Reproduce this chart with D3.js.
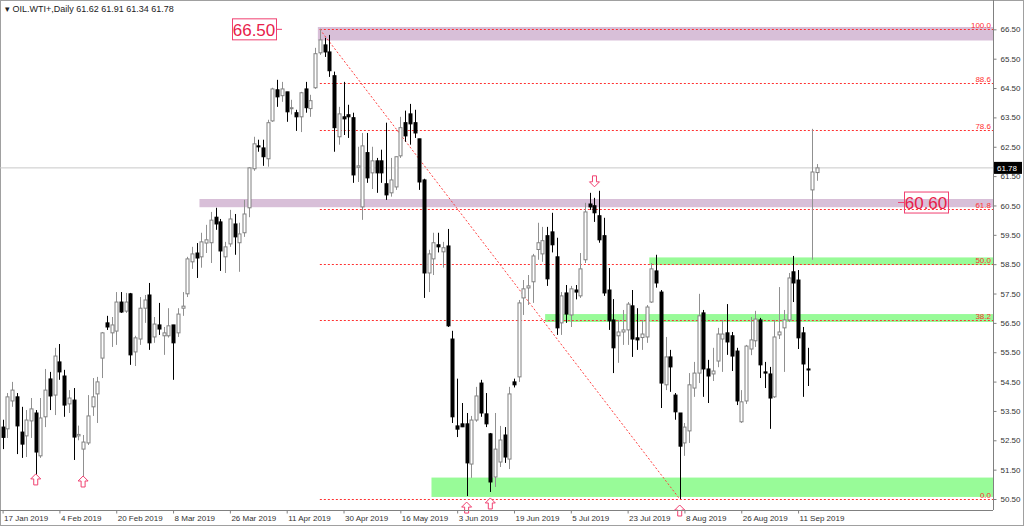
<!DOCTYPE html>
<html><head><meta charset="utf-8">
<script src="https://cdn.jsdelivr.net/npm/d3@7"></script>
<style>body{margin:0;background:#fff}svg{display:block}text{font-family:"Liberation Sans",Arial,sans-serif}</style>
</head><body><svg id="c" width="1024" height="526"></svg>
<script>
const open=[52.95,52.89,53.84,53.98,52.78,52.65,53.16,53.43,51.97,53.3,54.59,54.04,55.17,54.69,53.74,53.87,52.65,52.2,52.41,53.64,54.08,55.3,56.5,56.16,56.22,57.21,56.9,57.49,55.51,55.95,57.0,57.45,56.02,56.43,56.06,56.06,56.43,56.16,57.0,57.49,58.58,58.88,58.75,59.22,59.23,60.1,59.94,58.75,59.19,59.87,59.23,59.57,60.42,61.75,62.53,62.46,62.09,63.38,64.44,64.24,64.37,63.8,63.66,63.52,64.47,63.8,64.51,65.7,65.97,65.73,64.92,62.84,63.52,63.59,63.49,61.8,60.45,62.3,61.61,62.02,62.02,61.24,60.93,61.13,62.19,63.32,63.62,63.32,62.77,61.37,58.2,58.68,59.16,58.92,59.12,55.95,52.99,53.06,53.06,51.69,53.19,54.45,53.4,52.72,51.25,51.76,52.68,51.86,54.49,54.66,57.35,57.69,57.9,59.0,58.85,59.47,59.6,58.75,56.5,57.52,56.77,57.62,57.42,58.65,60.55,60.49,60.15,59.47,57.62,56.6,56.06,56.19,56.26,57.08,55.99,56.0,56.02,57.21,58.27,57.55,54.39,55.34,54.04,53.43,52.41,52.82,54.28,54.79,56.84,54.93,54.76,55.2,55.95,56.16,56.06,55.54,53.13,53.84,55.61,55.89,56.6,54.83,54.76,53.98,56.09,56.33,56.6,58.24,57.96,56.16,54.93,61.03,61.62];
const high=[53.2,54.11,54.49,54.11,53.64,53.53,53.94,53.53,53.94,54.93,54.83,55.65,55.78,54.9,54.21,54.28,53.0,52.68,54.04,54.62,54.66,56.19,56.74,56.7,57.55,57.55,57.52,57.52,56.06,57.38,57.45,57.86,56.7,57.18,56.36,57.0,56.43,57.0,57.55,58.75,59.09,59.22,59.57,59.84,60.28,60.42,60.04,59.26,60.35,60.21,59.91,60.69,61.8,62.84,62.74,62.74,63.42,64.51,64.78,64.71,64.37,64.1,63.76,64.37,64.71,64.27,65.87,66.52,66.21,66.31,65.06,63.86,64.71,63.93,63.66,62.5,62.97,62.97,62.5,62.12,62.4,63.32,62.12,62.16,63.52,63.73,63.96,63.76,62.77,61.41,58.99,59.57,59.57,59.26,59.7,56.23,54.6,53.77,53.43,53.33,54.32,54.56,54.11,52.75,53.43,52.99,52.95,54.32,54.6,57.28,57.96,58.13,58.85,59.91,59.77,59.77,60.25,59.4,57.55,57.79,57.76,57.79,58.88,60.59,60.93,60.76,61.0,60.08,58.37,57.31,56.6,56.94,57.21,57.62,57.0,56.6,57.11,58.54,58.82,57.62,56.02,55.58,54.11,53.43,53.09,54.79,55.17,57.49,56.94,55.24,55.65,56.33,56.6,57.14,56.19,55.65,54.21,55.75,56.7,56.91,56.67,55.17,55.0,56.6,57.72,56.94,58.2,58.78,58.3,56.36,55.65,63.11,61.91];
const low=[52.2,52.58,53.64,52.03,51.9,51.93,52.58,51.32,51.9,52.95,53.53,53.36,54.56,53.3,53.43,51.83,52.5,51.25,52.34,53.33,53.09,54.62,56.26,55.68,55.75,56.84,56.84,55.07,55.03,55.75,56.5,55.58,55.82,56.09,55.41,56.0,54.56,56.02,56.74,57.38,58.34,58.03,58.38,58.88,58.54,59.67,58.27,58.2,59.09,58.82,58.24,59.43,60.1,61.68,62.33,61.85,61.82,63.35,63.86,64.03,63.35,63.6,63.04,63.0,63.66,63.52,64.47,65.63,65.56,64.88,62.33,62.57,62.9,62.8,61.27,61.3,60.01,61.27,61.06,60.93,61.27,60.69,60.8,61.03,62.12,62.67,62.57,62.8,61.03,57.35,57.55,58.13,58.9,58.38,56.36,53.09,52.61,52.95,50.6,51.22,53.13,53.3,52.95,50.74,50.91,51.59,51.73,51.52,54.3,54.49,56.77,57.11,57.18,58.65,58.58,57.76,58.9,56.09,56.09,56.5,56.36,57.3,57.35,58.54,60.35,59.94,59.23,57.42,56.26,54.79,55.14,55.75,55.75,55.34,55.58,55.58,55.82,57.18,57.7,53.6,54.21,54.15,53.2,50.5,51.97,52.41,53.98,54.45,53.98,53.77,54.52,54.99,54.83,55.41,54.86,53.7,53.09,53.74,55.4,55.68,54.62,54.28,52.89,53.94,55.95,54.83,56.53,57.21,55.61,53.98,54.35,58.65,61.34];
const close=[52.6,53.98,54.21,52.99,52.37,53.19,53.57,52.1,53.26,54.21,54.01,55.37,54.83,53.7,53.94,52.61,52.7,52.44,53.33,53.98,54.49,56.16,56.36,56.43,57.21,56.87,57.21,55.41,55.99,57.0,57.28,55.82,56.46,56.29,56.16,56.4,55.82,56.8,57.07,58.68,58.85,58.71,59.26,59.33,60.0,59.87,58.95,59.09,60.04,59.43,59.53,60.21,61.78,62.6,62.5,62.16,63.32,64.47,64.2,64.47,63.69,63.83,63.52,64.34,63.83,64.07,65.67,66.14,65.73,65.09,63.15,63.62,63.45,63.52,61.54,61.85,62.53,61.44,62.02,61.61,61.61,60.86,61.37,62.16,63.15,62.87,63.28,62.97,61.3,58.2,58.85,59.23,59.09,59.06,56.4,53.3,52.88,52.96,51.73,53.19,54.01,53.43,53.06,51.08,52.2,52.51,51.93,54.08,54.39,57.18,57.66,57.76,58.78,59.23,59.3,58.0,59.16,56.33,57.42,56.8,57.66,57.55,58.34,60.28,60.45,60.25,59.33,57.52,56.57,55.65,56.19,56.26,57.14,55.95,55.92,56.12,57.04,58.34,57.86,54.45,55.34,55.0,53.47,52.3,52.95,54.39,54.79,56.74,54.93,54.69,54.86,56.12,56.12,55.85,55.37,53.84,53.81,55.71,55.92,56.63,55.07,54.79,53.94,56.02,56.19,56.6,58.03,57.86,55.99,55.1,54.9,61.64,61.78];
const dateLabels=["17 Jan 2019","4 Feb 2019","20 Feb 2019","8 Mar 2019","26 Mar 2019","11 Apr 2019","30 Apr 2019","16 May 2019","3 Jun 2019","19 Jun 2019","5 Jul 2019","23 Jul 2019","8 Aug 2019","26 Aug 2019","11 Sep 2019"];
const labelStep=12;
const priceTicks=[50.5,51.5,52.5,53.5,54.5,55.5,56.5,57.5,58.5,59.5,60.5,61.5,62.5,63.5,64.5,65.5,66.5];
const fibLevels=[0,38.2,50,61.8,78.6,88.6,100];
const fibLow=50.5, fibHigh=66.5, fibStartIdx=67, fibEndIdx=143;
const lastPrice=61.78;
const upArrows=[7,17,98,103,143], downArrows=[124];
const zones=[{from:67,lo:66.12,hi:66.58,c:"#d8bfd8"},{from:42,lo:60.44,hi:60.72,c:"#d8bfd8"},{from:91,lo:50.57,hi:51.23,c:"#98fb98"},{from:137,lo:58.47,hi:58.73,c:"#98fb98"},{from:115,lo:56.53,hi:56.8,c:"#98fb98"}];
const callouts=[{text:"66.50",price:66.5,side:"left"},{text:"60.60",price:60.6,side:"right"}];

const svg=d3.select("#c");
const W=993,H=510;
const x=d3.scaleLinear().domain([0,172]).range([2.6,2.6+172*4.735]);
const y=d3.scaleLinear().domain([50.5,63.5]).range([499,117.4]);
svg.append("rect").attr("x",0.5).attr("y",0.5).attr("width",1023).attr("height",525).attr("fill","#fff").attr("stroke","#a0a0a0");
zones.forEach(z=>{svg.append("rect").attr("x",x(z.from)-2).attr("y",y(z.hi)).attr("width",W-x(z.from)+2).attr("height",y(z.lo)-y(z.hi)).attr("fill",z.c);});
svg.append("line").attr("x1",0).attr("x2",W).attr("y1",y(lastPrice)).attr("y2",y(lastPrice)).attr("stroke","#c8c8c8");
const fx=x(fibStartIdx);
fibLevels.forEach(l=>{const p=fibLow+(fibHigh-fibLow)*l/100;const yy=Math.round(y(p))+0.5;
 svg.append("line").attr("x1",fx).attr("x2",W).attr("y1",yy).attr("y2",yy).attr("stroke","#ff3030").attr("stroke-dasharray","2,2").attr("stroke-width",1);
 svg.append("text").attr("x",W-2).attr("y",yy-2).attr("text-anchor","end").attr("font-size",8).attr("fill","#ff3030").text(l.toFixed(1));});
svg.append("line").attr("x1",fx).attr("y1",y(fibHigh)).attr("x2",x(fibEndIdx)).attr("y2",y(fibLow)).attr("stroke","#ff4040").attr("stroke-dasharray","2,2");
const idx=d3.range(open.length);
const g=svg.append("g");
idx.forEach(i=>{const up=close[i]>=open[i];const cx=Math.round(x(i))+0.5;
 g.append("line").attr("x1",cx).attr("x2",cx).attr("y1",y(high[i])).attr("y2",y(low[i])).attr("stroke",up?"#909090":"#000");
 const t=y(Math.max(open[i],close[i])),b=y(Math.min(open[i],close[i]));
 g.append("rect").attr("x",cx-1.5).attr("y",t).attr("width",3).attr("height",Math.max(1,b-t)).attr("fill",up?"#fff":"#000").attr("stroke",up?"#808080":"#000").attr("stroke-width",1);});
function arrow(cx,cy,dir){const s=dir;const pts=[[0,-6*s],[5,-1*s],[2,-1*s],[2,5*s],[-2,5*s],[-2,-1*s],[-5,-1*s]].map(p=>[cx+p[0],cy+p[1]]);
 svg.append("polygon").attr("points",pts.map(p=>p.join(",")).join(" ")).attr("fill","#fff").attr("stroke","#f04070").attr("stroke-width",1);}
upArrows.forEach(i=>arrow(x(i),y(low[i])+(i<20?5:12),1));
downArrows.forEach(i=>arrow(x(i+1),y(high[i+1])-17,-1));
callouts.forEach(c=>{const yy=y(c.price);const w=44,h=21;const bx=c.side==="left"?232:904;
 svg.append("line").attr("x1",c.side==="left"?bx+w:bx-6).attr("x2",c.side==="left"?bx+w+6:bx).attr("y1",yy).attr("y2",yy).attr("stroke","#f04070");
 svg.append("rect").attr("x",bx+0.5).attr("y",yy-10.5).attr("width",w).attr("height",h).attr("fill","none").attr("stroke","#f04070");
 svg.append("text").attr("x",bx+w/2).attr("y",yy+6.5).attr("text-anchor","middle").attr("font-size",17).attr("fill","#e8204a").text(c.text);});
svg.append("line").attr("x1",W+0.5).attr("x2",W+0.5).attr("y1",0).attr("y2",H).attr("stroke","#808080");
svg.append("line").attr("x1",0).attr("x2",W).attr("y1",H+0.5).attr("y2",H+0.5).attr("stroke","#808080");
const ya=svg.append("g").attr("transform",`translate(${W+0.5},0)`).call(d3.axisRight(y).tickValues(priceTicks).tickFormat(d3.format(".2f")).tickSize(3).tickPadding(4));
ya.select(".domain").remove();
ya.selectAll("text").attr("font-size",8).attr("fill","#333").attr("font-family","Liberation Sans, Arial");
ya.selectAll("line").attr("stroke","#808080");
const ly=y(lastPrice);
svg.append("rect").attr("x",W+1).attr("y",ly-6).attr("width",28).attr("height",12).attr("fill","#000");
svg.append("text").attr("x",W+4).attr("y",ly+3).attr("font-size",8).attr("fill","#fff").text(lastPrice.toFixed(2));
const xa=svg.append("g").attr("transform",`translate(0,${H+0.5})`).call(d3.axisBottom(x).tickValues(dateLabels.map((d,k)=>k*labelStep)).tickFormat((d,k)=>dateLabels[k]).tickSize(3).tickPadding(2));
xa.select(".domain").remove();
xa.selectAll("text").attr("text-anchor","start").attr("dx",1).attr("font-size",8).attr("fill","#333").attr("font-family","Liberation Sans, Arial");
xa.selectAll("line").attr("stroke","#808080");
svg.append("text").attr("x",5).attr("y",12).attr("font-size",9).attr("fill","#222").text("▾ OIL.WTI+,Daily  61.62 61.91 61.34 61.78");
</script></body></html>
